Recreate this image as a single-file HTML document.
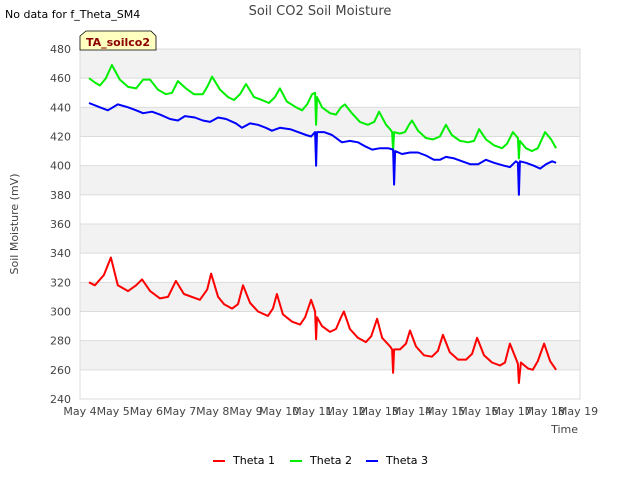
<!DOCTYPE html>
<html><head><meta charset="utf-8"><style>
body{margin:0;background:#fff;font-family:"Liberation Sans","DejaVu Sans",sans-serif}
svg text{font-family:"DejaVu Sans","Liberation Sans",sans-serif}
</style></head><body>
<svg id="c" width="640" height="480" viewBox="0 0 640 480">
<text x="5" y="18" font-size="11" fill="#000">No data for f_Theta_SM4</text>
<text x="320" y="15" font-size="13" fill="#444" text-anchor="middle">Soil CO2 Soil Moisture</text>
<g id="plot"></g>
<text x="18" y="224" font-size="11" fill="#444" text-anchor="middle" transform="rotate(-90 18 224)">Soil Moisture (mV)</text>
<text x="578" y="433" font-size="11" fill="#444" text-anchor="end">Time</text>
<g>
<path d="M80,50 L80,36 L86,31 L151,31 L156,36 L156,50 Z" fill="#ffffc0" stroke="#000" stroke-width="0.8"/>
<text x="118" y="46" font-size="11" font-weight="bold" fill="#8b0000" text-anchor="middle">TA_soilco2</text>
</g>
<g id="legend"></g>
</svg>
<script>
const yTicks=[240,260,280,300,320,340,360,380,400,420,440,460,480];
const xTickLabels=["May 4","May 5","May 6","May 7","May 8","May 9","May 10","May 11","May 12","May 13","May 14","May 15","May 16","May 17","May 18","May 19"];
const seriesNames=["Theta 1","Theta 2","Theta 3"];
const t1Days=[0.27,0.45,0.72,0.93,1.14,1.45,1.69,1.87,2.11,2.41,2.65,2.89,3.13,3.61,3.83,3.95,4.16,4.34,4.58,4.76,4.91,5.12,5.36,5.66,5.81,5.93,6.11,6.39,6.63,6.78,6.96,7.08,7.11,7.14,7.29,7.53,7.71,7.86,7.95,8.13,8.37,8.61,8.77,8.95,9.10,9.34,9.40,9.43,9.46,9.64,9.82,9.94,10.12,10.36,10.60,10.78,10.93,11.14,11.39,11.63,11.81,11.96,12.17,12.41,12.65,12.80,12.95,13.16,13.19,13.22,13.28,13.49,13.64,13.79,13.98,14.16,14.34];
const t1Vals=[320,318,325,337,318,314,318,322,314,309,310,321,312,308,315,326,310,305,302,305,318,306,300,297,302,312,298,293,291,296,308,300,281,296,290,286,288,296,300,288,282,279,283,295,282,276,274,258,274,274,278,287,276,270,269,273,284,272,267,267,271,282,270,265,263,265,278,266,264,251,265,261,260,266,278,266,260];
const t2Days=[0.27,0.45,0.60,0.78,0.96,1.20,1.45,1.69,1.90,2.11,2.35,2.59,2.77,2.95,3.19,3.43,3.70,3.83,3.98,4.22,4.46,4.64,4.82,5.00,5.24,5.48,5.69,5.87,6.02,6.23,6.51,6.69,6.84,6.99,7.08,7.11,7.14,7.29,7.53,7.71,7.86,7.98,8.19,8.43,8.67,8.86,9.01,9.22,9.34,9.40,9.43,9.46,9.64,9.79,9.91,10.00,10.18,10.42,10.63,10.84,11.02,11.20,11.45,11.69,11.87,12.02,12.23,12.47,12.71,12.86,13.04,13.19,13.22,13.25,13.43,13.61,13.79,14.01,14.19,14.34];
const t2Vals=[460,457,455,460,469,459,454,453,459,459,452,449,450,458,453,449,449,454,461,452,447,445,449,456,447,445,443,447,453,444,440,438,442,449,450,428,447,440,436,435,440,442,436,430,428,430,437,428,425,423,410,423,422,423,428,431,424,419,418,420,428,421,417,416,417,425,418,414,412,415,423,419,405,417,412,410,412,423,418,412];
const t3Days=[0.27,0.60,0.84,1.14,1.45,1.69,1.90,2.17,2.41,2.71,2.95,3.16,3.46,3.70,3.92,4.16,4.40,4.70,4.88,5.12,5.36,5.60,5.78,6.02,6.33,6.57,6.81,6.96,7.08,7.11,7.14,7.35,7.59,7.89,8.13,8.37,8.61,8.80,9.04,9.28,9.43,9.46,9.49,9.70,9.94,10.18,10.42,10.66,10.84,11.02,11.27,11.51,11.75,11.99,12.23,12.47,12.77,12.95,13.13,13.19,13.22,13.25,13.43,13.67,13.86,14.04,14.22,14.34];
const t3Vals=[443,440,438,442,440,438,436,437,435,432,431,434,433,431,430,433,432,429,426,429,428,426,424,426,425,423,421,420,423,400,423,423,421,416,417,416,413,411,412,412,411,387,410,408,409,409,407,404,404,406,405,403,401,401,404,402,400,399,403,402,380,403,402,400,398,401,403,402];
const colors=["#ff0000","#00ee00","#0000ff"];
const L=80,R=578,T=49,B=399;
const xS=d=>L+d*(R-L)/15;
const yS=v=>B-(v-240)*(B-T)/240;
const NS="http://www.w3.org/2000/svg";
const plot=document.getElementById('plot');
function mk(tag,attrs,parent){const e=document.createElementNS(NS,tag);for(const k in attrs)e.setAttribute(k,attrs[k]);parent.appendChild(e);return e;}
mk('rect',{x:L,y:T,width:R-L+2,height:B-T,fill:'#fff'},plot);
for(let i=0;i<yTicks.length-1;i++){
  if((yTicks.length-2-i)%2===0){
    const b=mk('rect',{x:L,y:yS(yTicks[i+1]),width:R-L+2,height:yS(yTicks[i])-yS(yTicks[i+1]),fill:'#f2f2f2'},plot);
    
    
  }
}
yTicks.forEach(v=>{
  const g=mk('line',{x1:L,x2:R+2,y1:yS(v),y2:yS(v),stroke:'#dcdcdc','stroke-width':1},plot);
  
  
  const t=mk('text',{x:L-9,y:yS(v)+4,'font-size':11,fill:'#444','text-anchor':'end'},plot);
  t.textContent=v;
  
  
});
mk('rect',{x:L,y:T,width:R-L+2,height:B-T,fill:'none',stroke:'#dcdcdc'},plot);
xTickLabels.forEach((s,i)=>{
  const t=mk('text',{x:xS(i),y:B+16,'font-size':11,fill:'#444','text-anchor':'middle'},plot);
  t.textContent=s;
  
  
});
const allDays=[t1Days,t2Days,t3Days],allVals=[t1Vals,t2Vals,t3Vals];
allDays.forEach((ds,k)=>{
  const pts=ds.map((d,i)=>xS(d).toFixed(1)+','+yS(allVals[k][i]).toFixed(1)).join(' ');
  const p=mk('polyline',{points:pts,fill:'none',stroke:colors[k],'stroke-width':2,'stroke-linejoin':'round'},plot);
  
  
});
const leg=document.getElementById('legend');
const lx=[213,290,366];
seriesNames.forEach((n,k)=>{
  const g=mk('g',{},leg);
  
  
  mk('line',{x1:lx[k],x2:lx[k]+12,y1:461,y2:461,stroke:colors[k],'stroke-width':2},g);
  const t=mk('text',{x:lx[k]+20,y:464,'font-size':11,fill:'#000'},g);
  t.textContent=n;
});
</script>
</body></html>
